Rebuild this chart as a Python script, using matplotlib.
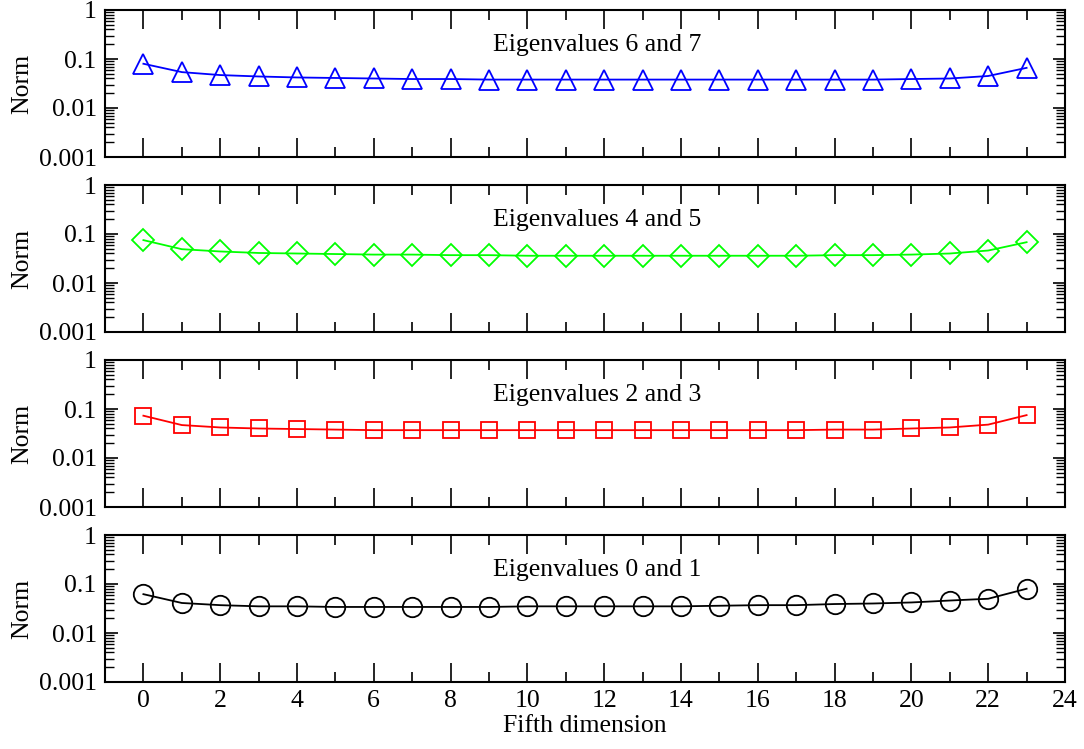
import matplotlib
matplotlib.use("Agg")
import matplotlib.pyplot as plt
from matplotlib.ticker import MultipleLocator, LogLocator, NullFormatter, FixedLocator

plt.rcParams['font.family'] = ['Liberation Serif', 'DejaVu Serif']
plt.rcParams['font.size'] = 18.5

# slice index along fifth dimension
x = list(range(24))

# norms for each pair of eigenvalues
norm_67 = [0.080, 0.054, 0.047, 0.044, 0.042, 0.041, 0.040, 0.039, 0.039, 0.038, 0.038, 0.038,
           0.038, 0.038, 0.038, 0.038, 0.038, 0.038, 0.038, 0.038, 0.039, 0.040, 0.045, 0.066]
norm_45 = [0.075, 0.049, 0.044, 0.041, 0.040, 0.039, 0.038, 0.038, 0.037, 0.037, 0.036, 0.036,
           0.036, 0.036, 0.036, 0.036, 0.036, 0.036, 0.037, 0.037, 0.038, 0.040, 0.046, 0.068]
norm_23 = [0.073, 0.047, 0.042, 0.040, 0.039, 0.038, 0.037, 0.037, 0.037, 0.037, 0.037, 0.037,
           0.037, 0.037, 0.037, 0.037, 0.037, 0.037, 0.038, 0.038, 0.040, 0.042, 0.048, 0.075]
norm_01 = [0.062, 0.041, 0.037, 0.035, 0.035, 0.034, 0.034, 0.034, 0.034, 0.034, 0.035, 0.035,
           0.035, 0.035, 0.035, 0.036, 0.037, 0.037, 0.039, 0.040, 0.042, 0.046, 0.050, 0.080]

panels = [
    ("Eigenvalues 6 and 7", norm_67, "#0000ff", "^"),
    ("Eigenvalues 4 and 5", norm_45, "#00ff00", "D"),
    ("Eigenvalues 2 and 3", norm_23, "#ff0000", "s"),
    ("Eigenvalues 0 and 1", norm_01, "#000000", "o"),
]
msizes = {"^": 14.5, "D": 11.5, "s": 11.5, "o": 14}

fig = plt.figure(figsize=(10.84, 7.49), dpi=100)
tops = [10, 185, 360, 535]
height = 147
left, right = 105, 1065

for i, (title, vals, col, mk) in enumerate(panels):
    top = tops[i]
    ax = fig.add_axes([left / 1084, 1 - (top + height) / 749, (right - left) / 1084, height / 749])
    ax.plot(x, vals, color=col, lw=1.3, marker=mk, ms=msizes[mk], mfc='none', mec=col, mew=1.3)
    ax.set_yscale('log')
    ax.set_ylim(0.001, 1)
    ax.set_xlim(-1, 24)
    ax.set_yticks([0.001, 0.01, 0.1, 1])
    ax.set_yticklabels(["0.001", "0.01", "0.1", "1"])
    ax.yaxis.set_minor_locator(LogLocator(base=10, subs=range(2, 10)))
    ax.yaxis.set_minor_formatter(NullFormatter())
    ax.xaxis.set_major_locator(MultipleLocator(2))
    ax.xaxis.set_minor_locator(MultipleLocator(1))
    ax.tick_params(axis='x', which='major', direction='in', length=14, width=1.2, top=True)
    ax.tick_params(axis='x', which='minor', direction='in', length=7, width=1.2, top=True)
    ax.tick_params(axis='y', which='major', direction='in', length=9, width=1.2, right=True)
    ax.tick_params(axis='y', which='minor', direction='in', length=6.5, width=1.0, right=True)
    ax.tick_params(axis='both', labelsize=18.5, pad=6)
    for s in ax.spines.values():
        s.set_linewidth(1.5)
    ax.set_ylabel("Norm", fontsize=18.5, labelpad=4)
    ax.text(0.513, 0.76, title, transform=ax.transAxes, ha='center', va='center', fontsize=18.5)
    if i < 3:
        ax.tick_params(axis='x', labelbottom=False)
    else:
        ax.set_xlabel("Fifth dimension", fontsize=18.5, labelpad=2)

fig.savefig("out.png", dpi=100)
